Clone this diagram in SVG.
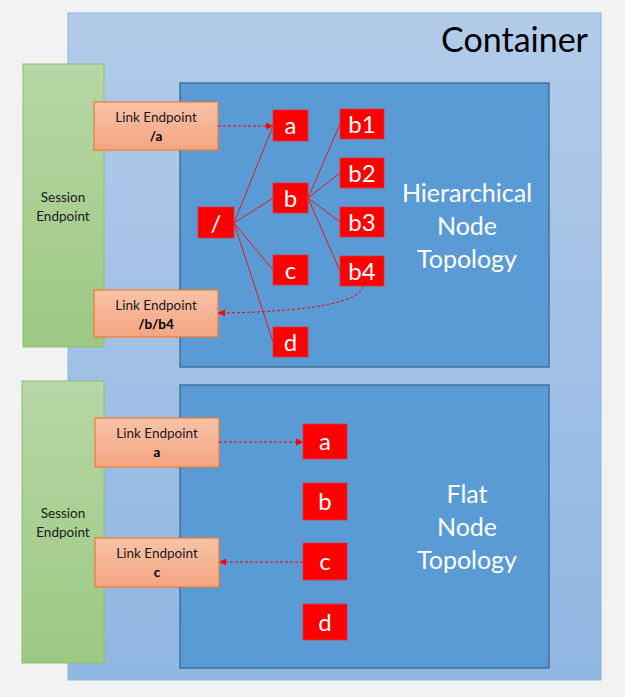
<svg xmlns="http://www.w3.org/2000/svg" width="625" height="697" viewBox="0 0 625 697">
<defs>
<linearGradient id="gCont" x1="0" y1="0" x2="0" y2="1"><stop offset="0" stop-color="#b2cbe9"/><stop offset="1" stop-color="#90b6e2"/></linearGradient>
<linearGradient id="gSess" x1="0" y1="0" x2="0" y2="1"><stop offset="0" stop-color="#b7d7a6"/><stop offset="1" stop-color="#9dc882"/></linearGradient>
<linearGradient id="gLink" x1="0" y1="0" x2="0" y2="1"><stop offset="0" stop-color="#f8c2a8"/><stop offset="1" stop-color="#f4a582"/></linearGradient>
<marker id="arr" viewBox="0 0 10 10" refX="10" refY="5" markerWidth="7" markerHeight="7" orient="auto" markerUnits="userSpaceOnUse"><path d="M0,0 L10,5 L0,10 z" fill="#ff0000"/></marker>
</defs>
<style>
.cont{fill:url(#gCont);stroke:#8db3e0;stroke-width:1}
.topo{fill:#5b9bd5;stroke:#41719c;stroke-width:1.5}
.sess{fill:url(#gSess);stroke:#8cbf70;stroke-width:1}
.link{fill:url(#gLink);stroke:#ed7d31;stroke-width:1.2}
.node{fill:#ff0000;stroke:#d9363a;stroke-width:0.8}
.t{font-family:Lato,"Open Sans","Liberation Sans",sans-serif}
.nl{font-size:24px;fill:#ffffff;text-anchor:middle}
.lt{font-size:13.5px;fill:#1a1a1a;text-anchor:middle}
.lb{font-size:13.5px;fill:#000;font-weight:bold;text-anchor:middle}
.big{font-size:25px;fill:#ffffff;text-anchor:middle}
.edge{stroke:#e3191c;stroke-width:1;fill:none}
.dash{stroke:#ff0000;stroke-width:1;fill:none;stroke-dasharray:3,2}
</style>
<rect width="625" height="697" fill="#f2f2f2"/>
<g id="container">
<rect class="cont" x="68" y="13" width="533" height="667"/>
<text class="t" x="588" y="52" font-size="34" text-anchor="end" fill="#000">Container</text>
</g>
<g id="hier-topology">
<rect class="topo" x="180" y="83" width="369" height="284"/>
<text class="t big" x="467" y="202">Hierarchical</text>
<text class="t big" x="467" y="235">Node</text>
<text class="t big" x="467" y="268">Topology</text>
</g>
<g id="flat-topology">
<rect class="topo" x="180" y="385" width="369" height="283"/>
<text class="t big" x="467" y="503">Flat</text>
<text class="t big" x="467" y="536">Node</text>
<text class="t big" x="467" y="569">Topology</text>
</g>
<g id="session1">
<rect class="sess" x="23" y="64" width="81" height="283"/>
<text class="t lt" x="63" y="202">Session</text>
<text class="t lt" x="63" y="221">Endpoint</text>
</g>
<g id="session2">
<rect class="sess" x="22" y="381" width="82" height="282"/>
<text class="t lt" x="63" y="518">Session</text>
<text class="t lt" x="63" y="537">Endpoint</text>
</g>
<g id="link-a-hier">
<rect class="link" x="94" y="102" width="124" height="48"/>
<text class="t lt" x="156" y="122">Link Endpoint</text>
<text class="t lb" x="156" y="141">/a</text>
</g>
<g id="link-b4-hier">
<rect class="link" x="94" y="290" width="124" height="47"/>
<text class="t lt" x="156" y="310">Link Endpoint</text>
<text class="t lb" x="156" y="329">/b/b4</text>
</g>
<g id="link-a-flat">
<rect class="link" x="95" y="418" width="124" height="49"/>
<text class="t lt" x="157" y="438">Link Endpoint</text>
<text class="t lb" x="157" y="457">a</text>
</g>
<g id="link-c-flat">
<rect class="link" x="95" y="538" width="124" height="49"/>
<text class="t lt" x="157" y="558">Link Endpoint</text>
<text class="t lb" x="157" y="577">c</text>
</g>
<g id="connectors">
<line class="edge" x1="234" y1="223" x2="273" y2="126"/>
<line class="edge" x1="234" y1="223" x2="273" y2="198"/>
<line class="edge" x1="234" y1="223" x2="273" y2="270"/>
<line class="edge" x1="234" y1="223" x2="273" y2="342"/>
<line class="edge" x1="308" y1="198" x2="340" y2="124"/>
<line class="edge" x1="308" y1="198" x2="340" y2="173"/>
<line class="edge" x1="308" y1="198" x2="340" y2="222"/>
<line class="edge" x1="308" y1="198" x2="340" y2="271"/>
<line class="dash" x1="218" y1="126" x2="273" y2="126" marker-end="url(#arr)"/>
<path class="dash" d="M363,286 C362,302 310,312 218,313" marker-end="url(#arr)"/>
<line class="dash" x1="219" y1="442" x2="303" y2="442" marker-end="url(#arr)"/>
<line class="dash" x1="303" y1="562" x2="219" y2="562" marker-end="url(#arr)"/>
</g>
<g id="node-root"><rect class="node" x="198" y="207" width="36" height="31"/><text class="t nl" x="216" y="232">/</text></g>
<g id="node-a"><rect class="node" x="273" y="110" width="35" height="31"/><text class="t nl" x="290.5" y="134">a</text></g>
<g id="node-b"><rect class="node" x="273" y="183" width="35" height="30"/><text class="t nl" x="290.5" y="207">b</text></g>
<g id="node-c"><rect class="node" x="273" y="255" width="35" height="30"/><text class="t nl" x="290.5" y="279">c</text></g>
<g id="node-d"><rect class="node" x="273" y="327" width="35" height="30"/><text class="t nl" x="290.5" y="351">d</text></g>
<g id="node-b1"><rect class="node" x="340" y="109" width="44" height="30"/><text class="t nl" x="362" y="133">b1</text></g>
<g id="node-b2"><rect class="node" x="340" y="158" width="44" height="30"/><text class="t nl" x="362" y="182">b2</text></g>
<g id="node-b3"><rect class="node" x="340" y="207" width="44" height="30"/><text class="t nl" x="362" y="231">b3</text></g>
<g id="node-b4"><rect class="node" x="340" y="256" width="44" height="30"/><text class="t nl" x="362" y="280">b4</text></g>
<g id="flat-a"><rect class="node" x="303" y="424" width="44" height="35"/><text class="t nl" x="325" y="450">a</text></g>
<g id="flat-b"><rect class="node" x="303" y="483" width="44" height="37"/><text class="t nl" x="325" y="510">b</text></g>
<g id="flat-c"><rect class="node" x="303" y="543" width="44" height="37"/><text class="t nl" x="325" y="570">c</text></g>
<g id="flat-d"><rect class="node" x="303" y="604" width="44" height="36"/><text class="t nl" x="325" y="631">d</text></g>
</svg>
